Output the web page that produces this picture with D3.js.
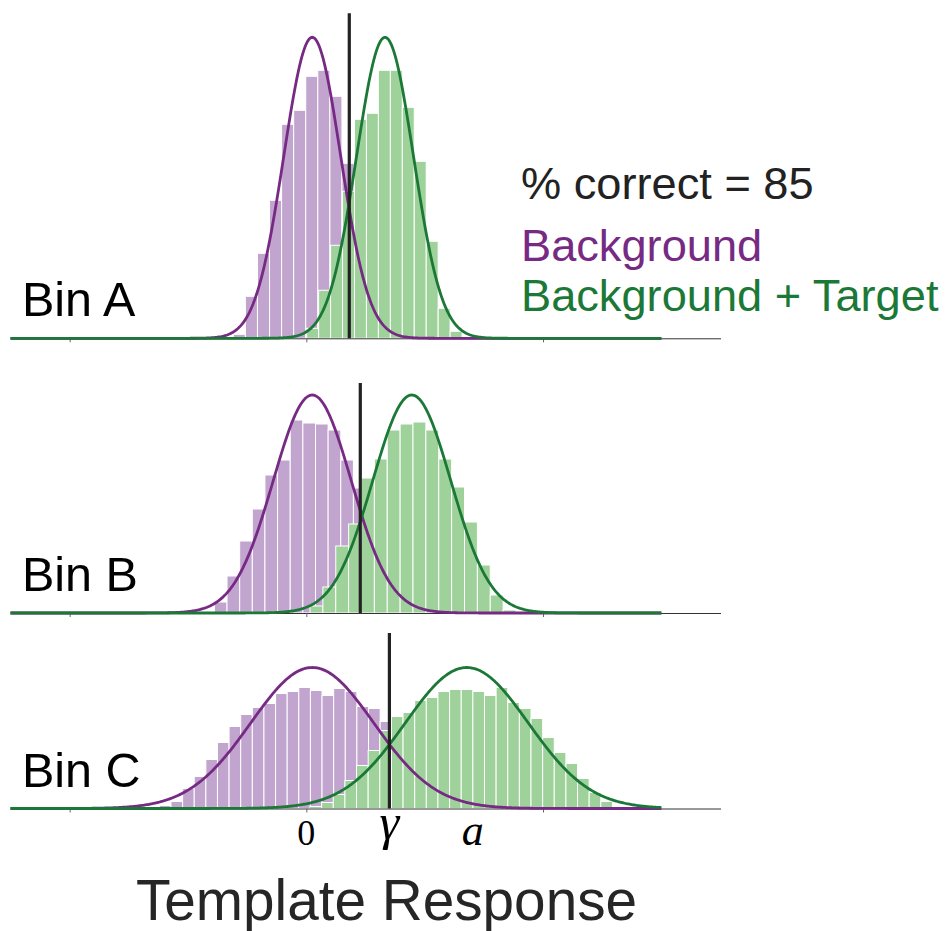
<!DOCTYPE html>
<html>
<head>
<meta charset="utf-8">
<script src="https://cdn.jsdelivr.net/npm/d3@7"></script>
<style>
  body { margin: 0; background: #fff; }
  text { font-family: "Liberation Sans", Arial, Helvetica, sans-serif; }
</style>
</head>
<body>
<svg id="chart" width="951" height="931"></svg>
<script>
// --- data (template response units, counts) ---
const panelNames = ["Bin A", "Bin B", "Bin C"]
const yMax = [325, 230, 175.5]

// fitted normal curves
const curveAmp = [301, 218, 141]
const bgMean = [0.05, 0.05, 0.05]
const tgMean = [0.665, 0.891, 1.356]
const sigma = [0.24, 0.33, 0.52]
const threshold = [0.363, 0.456, 0.702]

// background histograms
const bgStart = [-0.617, -0.777, -1.242]
const bgWidth = [0.102, 0.1068, 0.0982]
const bgCounts = [
  [4, 42, 85, 138, 214, 228, 262, 268, 242, 175, 95, 40, 12, 3],
  [11, 37, 72, 104, 138, 153, 193, 190, 189, 183, 153, 125, 80, 45, 20, 8, 3],
  [3, 7, 20, 32, 49, 66, 82, 94, 101, 105, 115, 117, 121, 118, 113, 120, 117, 102, 100, 87, 60, 40, 25, 12, 5, 2],
]

// background + target histograms
const tgStart = [0.003, 0.031, 0.031]
const tgWidth = [0.101, 0.1088, 0.0983]
const tgCounts = [
  [10, 48, 93, 147, 219, 225, 268, 268, 231, 177, 97, 30, 7],
  [7, 26, 67, 89, 135, 154, 183, 189, 191, 183, 154, 126, 91, 48, 18, 3],
  [2, 6, 14, 28, 43, 58, 78, 92, 96, 108, 111, 117, 119, 119, 117, 113, 121, 106, 100, 90, 71, 56, 45, 30, 16, 7],
]

const xDomain = [-2.5, 3.5]
const curveDomain = [-2.5, 3.0]
const tickValues = [-2, 0, 2]
const bottomLabels = ["0", "γ", "a"]

// --- layout ---
const panelBottom = [338.3, 613, 808.5]
const colors = {
  bgBar: "#c2a5cf",
  tgBar: "#9fd29b",
  bgLine: "#762a83",
  tgLine: "#1b7837",
}

const svg = d3.select("#chart")
const x = d3.scaleLinear().domain(xDomain).range([10.5, 720.5])

const gauss = (mu, s, amp) => (v) => amp * Math.exp(-((v - mu) ** 2) / (2 * s * s))
const samples = d3.range(curveDomain[0], curveDomain[1] + 1e-9, 0.01)

panelNames.forEach((name, i) => {
  const y = d3.scaleLinear().domain([0, yMax[i]]).range([panelBottom[i], panelBottom[i] - yMax[i]])
  const g = svg.append("g")

  const hist = (start, w, counts, fill) => {
    g.append("g")
      .selectAll("rect")
      .data(counts)
      .join("rect")
      .attr("x", (d, k) => x(start + k * w))
      .attr("width", (d, k) => x(start + (k + 1) * w) - x(start + k * w))
      .attr("y", (d) => y(d))
      .attr("height", (d) => y(0) - y(d))
      .attr("fill", fill)
      .attr("stroke", "#fff")
      .attr("stroke-width", 1)
  }
  hist(bgStart[i], bgWidth[i], bgCounts[i], colors.bgBar)
  hist(tgStart[i], tgWidth[i], tgCounts[i], colors.tgBar)

  // axis
  g.append("g")
    .attr("transform", `translate(0,${y(0)})`)
    .call(d3.axisBottom(x).tickValues(tickValues).tickFormat("").tickSize(4).tickSizeOuter(0))
    .call((a) => a.select(".domain").attr("stroke", "#333").attr("stroke-width", 1))
    .call((a) => a.selectAll(".tick line").attr("stroke", "#666"))

  const line = (f) => d3.line().x((v) => x(v)).y((v) => y(f(v)))(samples)
  g.append("path")
    .attr("d", line(gauss(bgMean[i], sigma[i], curveAmp[i])))
    .attr("fill", "none")
    .attr("stroke", colors.bgLine)
    .attr("stroke-width", 2.8)
  g.append("path")
    .attr("d", line(gauss(tgMean[i], sigma[i], curveAmp[i])))
    .attr("fill", "none")
    .attr("stroke", colors.tgLine)
    .attr("stroke-width", 2.8)

  // criterion
  g.append("line")
    .attr("x1", x(threshold[i])).attr("x2", x(threshold[i]))
    .attr("y1", y(0)).attr("y2", y(yMax[i]))
    .attr("stroke", "#222")
    .attr("stroke-width", 3.2)

  g.append("text")
    .attr("x", 22)
    .attr("y", panelBottom[i] - 22)
    .attr("font-size", 48.5)
    .attr("fill", "#000")
    .text(name)
})

// legend / summary
const legend = svg.append("g").attr("font-size", 45.2)
legend.append("text").attr("x", 521).attr("y", 199).attr("fill", "#222").text("% correct = 85")
legend.append("text").attr("x", 521).attr("y", 261).attr("fill", colors.bgLine).text("Background")
legend.append("text").attr("x", 521).attr("y", 311).attr("fill", colors.tgLine).text("Background + Target")

// bottom labels on the last panel
const labelPos = [0, threshold[2], tgMean[2]]
const labelSize = [36, 50, 44]
const labelY = [845, 839, 845]
svg.append("g")
  .selectAll("text")
  .data(bottomLabels)
  .join("text")
  .attr("x", (d, k) => x(labelPos[k]) + (k === 2 ? 6 : 0))
  .attr("y", (d, k) => labelY[k])
  .attr("text-anchor", "middle")
  .style("font-family", "'Liberation Serif', 'Times New Roman', serif")
  .style("font-style", (d, k) => (k === 0 ? "normal" : "italic"))
  .attr("font-size", (d, k) => labelSize[k])
  .attr("fill", "#000")
  .text((d) => d)

svg.append("text")
  .attr("x", 136)
  .attr("y", 920)
  .attr("font-size", 56.7)
  .attr("fill", "#262626")
  .text("Template Response")
</script>
</body>
</html>
